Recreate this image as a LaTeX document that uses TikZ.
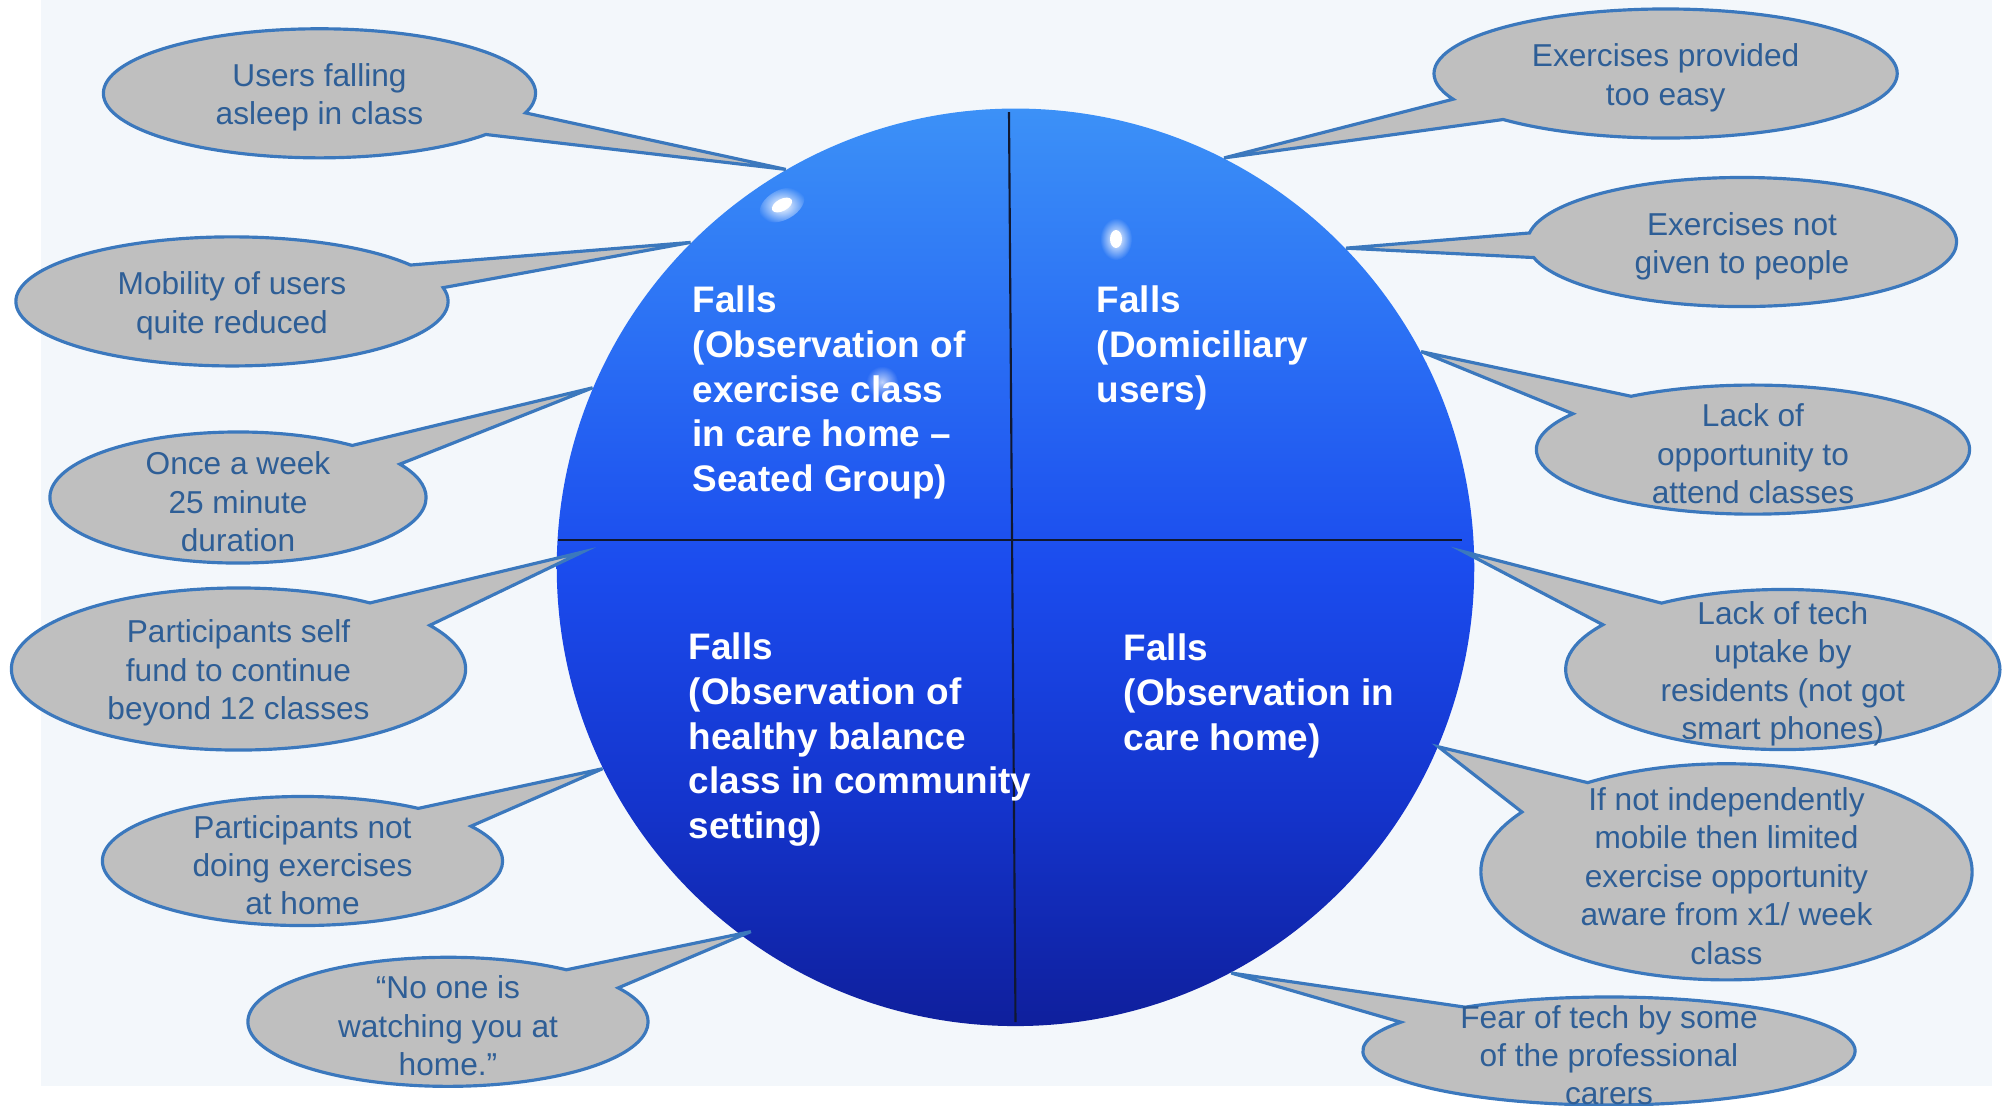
\documentclass[tikz,border=0pt]{standalone}
\usepackage{fontspec}
\setmainfont{Liberation Sans}
\usetikzlibrary{shapes.callouts,calc,fadings}

\definecolor{panel}{HTML}{F3F7FB}
\definecolor{bubblefill}{HTML}{BFBFBF}
\definecolor{bubbleline}{HTML}{3B78BD}
\definecolor{bubbletext}{HTML}{2E5E96}
\definecolor{balla}{HTML}{3C91F7}
\definecolor{ballb}{HTML}{2A6EF4}
\definecolor{ballc}{HTML}{1B4CEE}
\definecolor{balld}{HTML}{1434CC}
\definecolor{balle}{HTML}{0F1F9C}
\definecolor{divider}{HTML}{101830}

% vertical colour ramp of the ball, path sits between 25bp and 75bp
\pgfdeclareverticalshading{ballshade}{100bp}{color(0bp)=(balle); color(25bp)=(balle);
  color(37bp)=(balld); color(50bp)=(ballc); color(62bp)=(ballb); color(75bp)=(balla);
  color(100bp)=(balla)}
\tikzfading[name=glow, inner color=transparent!0, outer color=transparent!100]

\tikzset{
  bubble/.style={ellipse callout, fill=bubblefill, draw=bubbleline, line width=0.9pt,
    inner sep=0pt, callout pointer arc=22},
  note/.style={align=center, text=bubbletext, inner sep=0pt, yshift=-1.2pt,
    font=\fontsize{9}{10.93}\selectfont},
  falls/.style={anchor=north west, align=left, text=white, inner sep=0pt,
    font=\fontsize{10.5}{12.75}\selectfont\bfseries},
}

\begin{document}
\begin{tikzpicture}[x=0.01cm,y=-0.01cm]
    \useasboundingbox (0,0) rectangle (2008,1105);
    \fill[panel] (41,0) rectangle (1992,1086);

    % the ball
    \node[circle, minimum size=9.17cm, inner sep=0pt, shade, shading=ballshade] (ball) at (1015.5,567.3) {};
    \draw[divider, line width=0.6pt] (1009,112) -- (1015.5,1022);
    \draw[divider, line width=0.6pt] (558,540.4) -- (1462,540.4);

    \node[falls] (q1) at (692,285) {Falls\\(Observation of\\exercise class\\in care home –\\Seated Group)};
    \node[falls] (q2) at (1096,285) {Falls\\(Domiciliary\\users)};
    \node[falls] (q3) at (688,632) {Falls\\(Observation of\\healthy balance\\class in community\\setting)};
    \node[falls] (q4) at (1123,633) {Falls\\(Observation in\\care home)};

    % shiny spots
    \fill[white, path fading=glow] (782,205) ellipse [x radius=24, y radius=15, rotate=28];
    \fill[white] (782,205) ellipse [x radius=11, y radius=6, rotate=28];
    \fill[white, path fading=glow] (1116,239) ellipse [x radius=16, y radius=21];
    \fill[white] (1116,239) ellipse [x radius=6, y radius=9];
    \fill[white, opacity=0.7, path fading=glow] (882,382) circle (16);

    % left side
    \node[bubble, minimum width=4.32cm, minimum height=1.29cm, callout absolute pointer={(ball.120)},
      label={[note]center:Users falling\\asleep in class}] (l1) at (319.5,93.3) {};
    \node[bubble, minimum width=4.32cm, minimum height=1.29cm, callout absolute pointer={(ball.135)},
      label={[note]center:Mobility of users\\quite reduced}] (l2) at (232,301.4) {};
    \node[bubble, minimum width=3.76cm, minimum height=1.31cm, callout absolute pointer={(ball.157)},
      label={[note]center:Once a week\\25 minute\\duration}] (l3) at (238,497.5) {};
    \node[bubble, minimum width=4.54cm, minimum height=1.62cm,
      callout absolute pointer={($(ball.center)!0.944!(ball.178)$)},
      label={[note]center:Participants self\\fund to continue\\beyond 12 classes}] (l4) at (238.5,669) {};
    \node[bubble, minimum width=4.00cm, minimum height=1.29cm, callout absolute pointer={(ball.206)},
      label={[note]center:Participants not\\doing exercises\\at home}] (l5) at (302.5,861) {};
    \node[bubble, minimum width=4.00cm, minimum height=1.29cm,
      callout absolute pointer={($(ball.center)!0.98!(ball.234)$)},
      label={[note]center:“No one is\\watching you at\\home.”}] (l6) at (448,1021.8) {};

    % right side
    \node[bubble, minimum width=4.63cm, minimum height=1.29cm, callout absolute pointer={(ball.63)},
      label={[note]center:Exercises provided\\too easy}] (r1) at (1665.6,73.5) {};
    \node[bubble, minimum width=4.29cm, minimum height=1.29cm, callout absolute pointer={(ball.44)},
      label={[note]center:Exercises not\\given to people}] (r2) at (1742,242) {};
    \node[bubble, minimum width=4.33cm, minimum height=1.29cm, callout absolute pointer={(ball.28)},
      label={[note]center:Lack of\\opportunity to\\attend classes}] (r3) at (1753,449.6) {};
    \node[bubble, minimum width=4.34cm, minimum height=1.60cm,
      callout absolute pointer={($(ball.center)!0.976!(ball.2)$)},
      label={[note]center:Lack of tech\\uptake by\\residents (not got\\smart phones)}] (r4) at (1782.8,669.5) {};
    \node[bubble, minimum width=4.91cm, minimum height=2.16cm, callout absolute pointer={(ball.337)},
      label={[note]center:If not independently\\mobile then limited\\exercise opportunity\\aware from x1/ week\\class}] (r5) at (1726.5,871.8) {};
    \node[bubble, minimum width=4.92cm, minimum height=1.08cm, callout absolute pointer={(ball.298)},
      label={[note]center:Fear of tech by some\\of the professional\\carers}] (r6) at (1609,1051) {};
\end{tikzpicture}
\end{document}
